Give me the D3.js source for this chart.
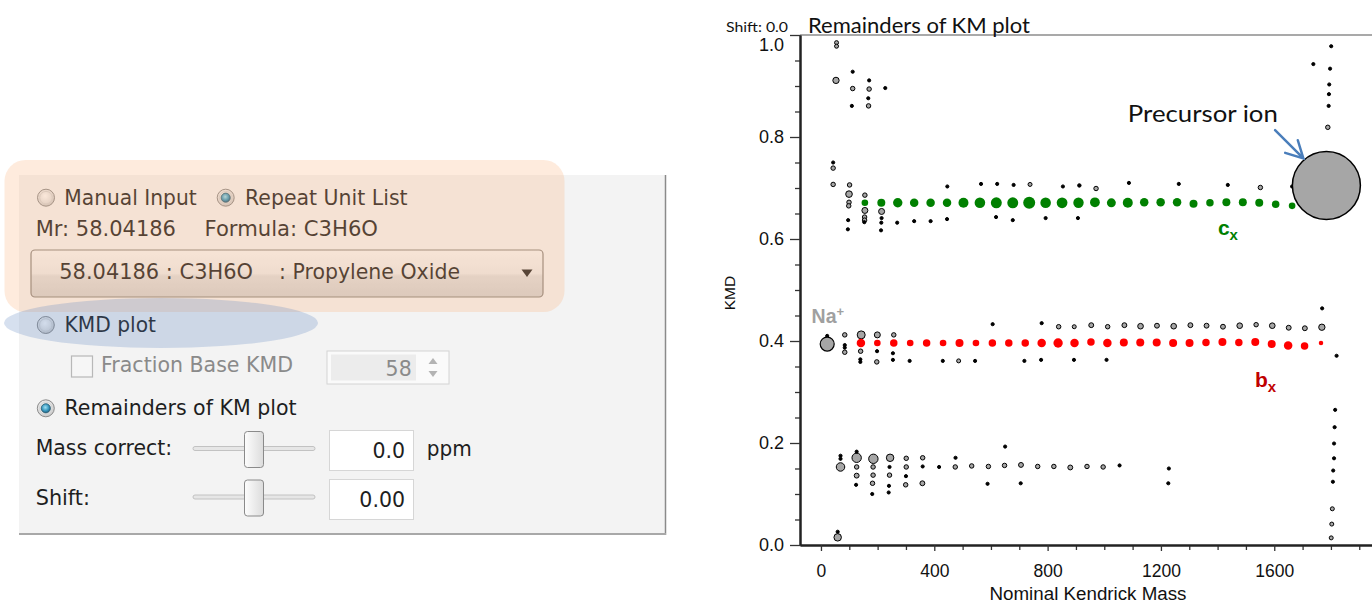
<!DOCTYPE html>
<html><head><meta charset="utf-8">
<script src="https://cdn.jsdelivr.net/npm/d3@7"></script>
<style>html,body{margin:0;padding:0;background:#fff;overflow:hidden}</style>
</head><body>
<svg id="c" width="1372" height="603"></svg>
<script>
// ---------------- DATA ----------------
// c-series (green) : nominal Kendrick mass, KMD remainder, abundance
const cxMass = [155,213,271,329,387,445,503,561,619,677,735,793,851,909,967,1025,1083,1141,1199,1257,1315,1373,1431,1489,1547,1605,1663];
const cxKmd  = [0.671,0.671,0.671,0.671,0.671,0.671,0.671,0.671,0.671,0.671,0.671,0.671,0.671,0.671,0.672,0.671,0.671,0.672,0.672,0.672,0.669,0.671,0.672,0.672,0.671,0.668,0.665];
const cxAbund= [11,16,22,18,18,18,25,28,30,30,36,28,29,27,24,20,25,18,18,18,16,14,16,16,16,14,11];
// b-series (red)
const bxMass = [141,199,257,315,373,431,489,547,605,663,721,779,837,895,953,1011,1069,1127,1185,1243,1301,1359,1417,1475,1533,1591,1649,1707,1765];
const bxKmd  = [0.396,0.396,0.396,0.396,0.396,0.396,0.396,0.396,0.396,0.396,0.396,0.396,0.396,0.396,0.398,0.396,0.397,0.397,0.397,0.396,0.396,0.397,0.398,0.397,0.398,0.394,0.391,0.390,0.396];
const bxAbund= [18,11,14,11,14,11,16,11,14,14,14,18,22,18,14,18,16,16,16,16,16,14,16,14,16,16,18,14,5];
// Na+ adduct and precursor ion
const naMass = [22], naKmd = [0.394], naAbund = [49];
const precursorMass = [1784], precursorKmd = [0.705], precursorAbund = [1156];
// other ions [mass, KMD, abundance]
const otherUpper = [[55,0.985,4],[55,0.978,4],[53,0.911,10],[112,0.928,2.5],[112,0.895,5],[109,0.861,2.5],[170,0.911,2.5],[170,0.894,5],[167,0.876,2.5],[168,0.861,5],[227,0.896,2.5],
 [43,0.750,2.5],[43,0.739,5],[43,0.707,5],[101,0.706,5],[99,0.688,11],[99,0.672,5],[98,0.665,5],[96,0.637,2.5],[95,0.619,2.5],
 [155,0.686,5],[155,0.656,9],[154,0.643,5],[154,0.637,5],[153,0.633,2.5],[214,0.654,9],[214,0.641,2.5],[213,0.632,2.5],[212,0.617,2.5],
 [269,0.632,2.5],[329,0.635,2.5],[387,0.635,2.5],[446,0.703,2.5],[445,0.639,2.5],[565,0.708,2.5],[622,0.708,2.5],[618,0.643,2.5],[680,0.706,2.5],[677,0.637,2.5],[738,0.707,4],[793,0.641,2.5],[854,0.703,2.5],[912,0.705,3],[907,0.641,2.5],[971,0.699,5],[1087,0.710,2.5],[1263,0.708,2.5],[1436,0.706,2.5],[1551,0.701,5],[1663,0.703,2.5],
 [1801,0.978,2.5],[1738,0.943,2.5],[1797,0.934,2.5],[1794,0.903,2.5],[1793,0.884,2.5],[1792,0.861,2.5],[1789,0.819,5]];
const otherMid = [[22,0.410,2.5],[84,0.412,5],[84,0.392,2.5],[84,0.387,2.5],[84,0.378,5],[142,0.412,16],[140,0.380,5],[139,0.364,2.5],[139,0.359,2.5],[199,0.412,9],[198,0.380,2.5],[197,0.359,5],[257,0.412,5],[254,0.376,2.5],[254,0.363,2.5],[313,0.361,2.5],[430,0.361,2.5],[486,0.361,4],[544,0.361,2.5],[606,0.433,2.5],[718,0.361,2.5],[779,0.435,2.5],[777,0.363,2.5],[839,0.428,5],[894,0.428,4],[893,0.363,2.5],[954,0.431,6],[1012,0.428,5],[1071,0.431,6],[1128,0.429,8],[1186,0.430,6],[1245,0.429,8],[1304,0.431,6],[1361,0.430,6],[1419,0.428,6],[1478,0.430,8],[1536,0.432,5],[1593,0.430,8],[1651,0.426,6],[1708,0.425,6],[1768,0.427,10],[1008,0.363,2.5],[1769,0.464,2.5],[1820,0.371,2.5]];
const otherLow = [[69,0.153,18],[69,0.175,2.5],[69,0.169,2.5],[59,0.015,14],[59,0.026,2.5],[126,0.171,22],[126,0.183,2.5],[126,0.153,5],[126,0.136,6],[124,0.118,2.5],[185,0.169,22],[184,0.153,5],[184,0.137,5],[182,0.121,5],[181,0.100,2.5],[244,0.171,14],[242,0.153,2.5],[242,0.137,5],[240,0.116,2.5],[239,0.103,2.5],[301,0.170,5],[301,0.153,5],[300,0.135,2.5],[299,0.118,5],[359,0.171,5],[359,0.154,2.5],[358,0.121,6],[417,0.153,2.5],[475,0.171,2.5],[474,0.153,5],[532,0.155,5],[591,0.154,5],[588,0.120,2.5],[650,0.193,2.5],[648,0.156,5],[706,0.157,6],[705,0.121,2.5],[765,0.154,5],[822,0.154,5],[880,0.152,6],[939,0.154,5],[996,0.153,5],[1054,0.156,2.5],[1228,0.150,2.5],[1226,0.121,2.5],
 [1815,0.265,2.5],[1813,0.231,2.5],[1811,0.199,2.5],[1811,0.170,2.5],[1808,0.146,2.5],[1807,0.124,2.5],[1805,0.071,4],[1803,0.041,4],[1801,0.014,4]];
// ticks
const yMajorTicks = [0, 0.2, 0.4, 0.6, 0.8, 1.0];
const yMinorTicks = [0.05,0.1,0.15,0.25,0.3,0.35,0.45,0.5,0.55,0.65,0.7,0.75,0.85,0.9,0.95];
const xMajorTicks = [0, 400, 800, 1200, 1600];
const xMinorTicks = [100,200,300,500,600,700,900,1000,1100,1300,1400,1500,1700,1800,1900];

// ---------------- CHART ----------------
const svg = d3.select("#c");
svg.append("rect").attr("width",1372).attr("height",603).attr("fill","#fff");
const defs = svg.append("defs");

const x = d3.scaleLinear().domain([-74, 1945]).range([800, 1372]);
const y = d3.scaleLinear().domain([0, 1]).range([545, 35]);
const r = d3.scaleSqrt().domain([0, 1156]).range([0, 34]);

const chart = svg.append("g");
// top border
chart.append("line").attr("x1",x.range()[0]).attr("x2",x.range()[1]).attr("y1",y(1)).attr("y2",y(1))
  .attr("stroke","#8c8c8c").attr("stroke-width",1.5);

// y axis
const yAxMinor = chart.append("g").attr("transform",`translate(${x.range()[0]},0)`)
  .call(d3.axisLeft(y).tickValues(yMinorTicks).tickSize(5).tickSizeOuter(0).tickFormat(""));
const yAx = chart.append("g").attr("transform",`translate(${x.range()[0]},0)`)
  .call(d3.axisLeft(y).tickValues(yMajorTicks).tickSize(10).tickPadding(6).tickSizeOuter(0).tickFormat(d3.format(".1f")));
// x axis
const xAxMinor = chart.append("g").attr("transform",`translate(0,${y(0)})`)
  .call(d3.axisBottom(x).tickValues(xMinorTicks).tickSize(5).tickSizeOuter(0).tickFormat(""));
const xAx = chart.append("g").attr("transform",`translate(0,${y(0)})`)
  .call(d3.axisBottom(x).tickValues(xMajorTicks).tickSize(6).tickPadding(14).tickSizeOuter(0).tickFormat(d3.format("d")));
[yAx,yAxMinor,xAx,xAxMinor].forEach(g=>{
  g.selectAll(".domain").attr("stroke","#222").attr("stroke-width",2);
  g.selectAll(".tick line").attr("stroke","#333").attr("stroke-width",1.3);
});
yAx.selectAll("text").attr("font-family","Liberation Sans, Arial, sans-serif").attr("font-size",18).attr("fill","#111")
  .attr("dy", d => d === 1 ? "0.85em" : "0.32em");
xAx.selectAll("text").attr("font-family","Liberation Sans, Arial, sans-serif").attr("font-size",17.5).attr("fill","#111");

// axis titles
chart.append("text").attr("x",1088).attr("y",600).attr("text-anchor","middle")
  .attr("font-family","Liberation Sans, Arial, sans-serif").attr("font-size",17.5).attr("fill","#111")
  .attr("textLength",197).attr("lengthAdjust","spacingAndGlyphs")
  .text("Nominal Kendrick Mass");
chart.append("text").attr("transform","translate(735,293) rotate(-90)").attr("text-anchor","middle")
  .attr("font-family","Liberation Sans, Arial, sans-serif").attr("font-size",15.5).attr("fill","#111")
  .text("KMD");
// title
chart.append("text").attr("x",808).attr("y",33).attr("font-family","Lato, sans-serif").attr("font-size",21)
  .attr("textLength",222).attr("lengthAdjust","spacingAndGlyphs").attr("fill","#111").text("Remainders of KM plot");
chart.append("text").attr("x",726).attr("y",31.5).attr("font-family","Lato, sans-serif").attr("font-size",14)
  .attr("textLength",62).attr("lengthAdjust","spacingAndGlyphs").attr("fill","#111").text("Shift: 0.0");

// points
const others = otherUpper.concat(otherMid, otherLow);
const pts = chart.append("g");
pts.selectAll("circle.other").data(others).join("circle").attr("class","other")
  .attr("cx",d=>x(d[0])).attr("cy",d=>y(d[1])).attr("r",d=>r(d[2]))
  .attr("fill",d => d[2] <= 3 ? "#000" : "#a6a6a6").attr("stroke","#000").attr("stroke-width",1);
pts.selectAll("circle.na").data(naMass).join("circle").attr("class","na")
  .attr("cx",d=>x(d)).attr("cy",(d,i)=>y(naKmd[i])).attr("r",(d,i)=>r(naAbund[i]))
  .attr("fill","#a6a6a6").attr("stroke","#000").attr("stroke-width",1.2);
pts.selectAll("circle.bx").data(bxMass).join("circle").attr("class","bx")
  .attr("cx",d=>x(d)).attr("cy",(d,i)=>y(bxKmd[i])).attr("r",(d,i)=>r(bxAbund[i])).attr("fill","#ff0000");
pts.selectAll("circle.cx").data(cxMass).join("circle").attr("class","cx")
  .attr("cx",d=>x(d)).attr("cy",(d,i)=>y(cxKmd[i])).attr("r",(d,i)=>r(cxAbund[i])).attr("fill","#008000");
pts.selectAll("circle.prec").data(precursorMass).join("circle").attr("class","prec")
  .attr("cx",d=>x(d)).attr("cy",(d,i)=>y(precursorKmd[i])).attr("r",(d,i)=>r(precursorAbund[i]))
  .attr("fill","#a6a6a6").attr("stroke","#000").attr("stroke-width",1.5);

// annotations
const pcx = x(precursorMass[0]), pcy = y(precursorKmd[0]), pr = r(precursorAbund[0]);
const ang = Math.atan2(-27, -23);
const tip = [pcx + (pr+1.5)*Math.cos(ang), pcy + (pr+1.5)*Math.sin(ang)];
const tail = [tip[0]-28.3, tip[1]-28.3];
const dirA = Math.atan2(tip[1]-tail[1], tip[0]-tail[0]);
const hl = 19, ha = 28*Math.PI/180;
const arm1 = [tip[0]+hl*Math.cos(dirA+Math.PI-ha), tip[1]+hl*Math.sin(dirA+Math.PI-ha)];
const arm2 = [tip[0]+hl*Math.cos(dirA+Math.PI+ha), tip[1]+hl*Math.sin(dirA+Math.PI+ha)];
chart.append("path").attr("d",`M${tail}L${tip}M${arm1}L${tip}L${arm2}`)
  .attr("fill","none").attr("stroke","#4a7ebb").attr("stroke-width",2.5).attr("stroke-linecap","round");
chart.append("text").attr("x",x(1348)).attr("y",y(0.830)).attr("text-anchor","middle")
  .attr("font-family","Lato, sans-serif").attr("font-size",24).attr("textLength",150).attr("lengthAdjust","spacingAndGlyphs")
  .attr("fill","#111").text("Precursor ion");

const naT = chart.append("text").attr("x",x(-33)).attr("y",y(0.435)).attr("font-family","Liberation Sans, Arial, sans-serif")
  .attr("font-weight","bold").attr("fill","#a0a0a0").attr("font-size",19.5);
naT.append("tspan").text("Na");
naT.append("tspan").attr("font-size",13).attr("dy",-7).text("+");

const cT = chart.append("text").attr("x",x(1401)).attr("y",y(0.608)).attr("font-family","Liberation Sans, Arial, sans-serif")
  .attr("font-weight","bold").attr("fill","#008000").attr("font-size",21);
cT.append("tspan").text("c");
cT.append("tspan").attr("font-size",15).attr("dy",5).text("x");

const bT = chart.append("text").attr("x",x(1532)).attr("y",y(0.310)).attr("font-family","Liberation Sans, Arial, sans-serif")
  .attr("font-weight","bold").attr("fill","#c00000").attr("font-size",21);
bT.append("tspan").text("b");
bT.append("tspan").attr("font-size",15).attr("dy",5).text("x");

// ---------------- SETTINGS PANEL (UI) ----------------
const lg = (id, stops, x2, y2) => {
  const g = defs.append("linearGradient").attr("id",id).attr("x1",0).attr("y1",0).attr("x2",x2||0).attr("y2",y2===undefined?1:y2);
  stops.forEach(s=>g.append("stop").attr("offset",s[0]).attr("stop-color",s[1]));
};
const rg = (id, stops) => {
  const g = defs.append("radialGradient").attr("id",id).attr("cx","45%").attr("cy","40%").attr("r","60%");
  stops.forEach(s=>g.append("stop").attr("offset",s[0]).attr("stop-color",s[1]));
};
lg("ddGrad",[[0,"#f6f6f6"],[0.5,"#ebebeb"],[0.55,"#dedede"],[1,"#d2d2d2"]]);
lg("thumbGrad",[[0,"#fdfdfd"],[1,"#dcdcdc"]],1,0);
rg("radioGrad",[[0,"#fbfbfb"],[0.7,"#e0e0e0"],[1,"#c4c4c4"]]);
rg("radioSel",[[0,"#9fe0f2"],[0.6,"#3b9ac0"],[1,"#1d5f80"]]);

const ui = svg.append("g");
ui.append("rect").attr("x",19).attr("y",175).attr("width",646).attr("height",358).attr("fill","#f3f3f3");
ui.append("line").attr("x1",665.5).attr("x2",665.5).attr("y1",175).attr("y2",535).attr("stroke","#8a8a8a").attr("stroke-width",1.5);
ui.append("line").attr("x1",19).attr("x2",666).attr("y1",534).attr("y2",534).attr("stroke","#a8a8a8").attr("stroke-width",2);

const uiFont = "DejaVu Sans, Verdana, sans-serif";
function label(xp, yp, s, w, opt) {
  opt = opt || {};
  const t = ui.append("text").attr("x",xp).attr("y",yp).attr("font-family",uiFont).attr("font-size",opt.size||20.5)
    .attr("fill",opt.fill||"#1e1e1e").attr("text-anchor",opt.anchor||"start").text(s);
  if (w) t.attr("textLength",w).attr("lengthAdjust","spacingAndGlyphs");
  return t;
}
function radio(cx, cy, sel) {
  ui.append("circle").attr("cx",cx).attr("cy",cy).attr("r",8.5).attr("fill","url(#radioGrad)").attr("stroke","#8c8c8c").attr("stroke-width",1);
  ui.append("circle").attr("cx",cx).attr("cy",cy).attr("r",6.3).attr("fill","none").attr("stroke","#d2d2d2").attr("stroke-width",1);
  if (sel) ui.append("circle").attr("cx",cx).attr("cy",cy).attr("r",4.6).attr("fill","url(#radioSel)").attr("stroke","#2a5a6e").attr("stroke-width",0.8);
}
function slider(cy, thumbX) {
  ui.append("rect").attr("x",193).attr("y",cy-2).attr("width",122).attr("height",4).attr("rx",2)
    .attr("fill","#e6e6e6").attr("stroke","#c2c2c2").attr("stroke-width",1);
  ui.append("rect").attr("x",thumbX).attr("y",cy-17).attr("width",19).attr("height",36).attr("rx",3)
    .attr("fill","url(#thumbGrad)").attr("stroke","#8a8a8a").attr("stroke-width",1);
}
function textbox(x0, y0, w, h, val) {
  ui.append("rect").attr("x",x0).attr("y",y0).attr("width",w).attr("height",h).attr("fill","#fff").attr("stroke","#d6d6d6").attr("stroke-width",1);
  label(x0+w-8.5, y0+h/2+7.5, val, null, {anchor:"end"});
}

radio(46, 197.7, false);
label(64.3, 204.5, "Manual Input", 132.4);
radio(225.7, 197.7, true);
label(245, 204.5, "Repeat Unit List", 162.6);
label(35.7, 236, "Mr: 58.04186", 140.3);
label(204.5, 236, "Formula: C3H6O", 173.5);
// dropdown
ui.append("rect").attr("x",31).attr("y",250).attr("width",512).attr("height",47).attr("rx",4)
  .attr("fill","url(#ddGrad)").attr("stroke","#8a8580").attr("stroke-width",1.2);
label(59.3, 279, "58.04186 : C3H6O", 193.7);
label(279, 279, ": Propylene Oxide", 181);
ui.append("path").attr("d","M521.5,269.5L532.5,269.5L527,277Z").attr("fill","#222");

radio(45.8, 325, false);
label(64.5, 331.7, "KMD plot", 91.5);
// checkbox
ui.append("rect").attr("x",71.5).attr("y",356).attr("width",21).attr("height",21).attr("fill","#f6f6f6").attr("stroke","#b8b8b8").attr("stroke-width",1.2);
label(101, 371.7, "Fraction Base KMD", 192, {fill:"#8a8a8a"});
// spin box
ui.append("rect").attr("x",327).attr("y",351).attr("width",122).attr("height",33).attr("fill","#fafafa").attr("stroke","#d4d4d4").attr("stroke-width",1);
ui.append("rect").attr("x",331).attr("y",354.5).attr("width",85).attr("height",26).attr("fill","#ececec");
label(411.7, 375.7, "58", null, {anchor:"end", fill:"#8a8a8a"});
ui.append("path").attr("d","M428.5,364L437.5,364L433,358Z").attr("fill","#b3b3b3");
ui.append("path").attr("d","M428.5,371L437.5,371L433,377Z").attr("fill","#b3b3b3");

radio(45.8, 408.3, true);
label(64.5, 415, "Remainders of KM plot", 232);
label(35.7, 455, "Mass correct:", 136.5);
slider(448.5, 244.5);
textbox(329.5, 430.5, 84, 40, "0.0");
label(426.7, 456, "ppm", 45);
label(35.7, 505, "Shift:", 54.3);
slider(497, 244.5);
textbox(329.5, 479.5, 84, 40, "0.00");

// highlight overlays
ui.append("rect").attr("x",4.5).attr("y",160).attr("width",560).attr("height",152).attr("rx",21)
  .attr("fill","rgba(250,175,120,0.25)");
ui.append("ellipse").attr("cx",161).attr("cy",323).attr("rx",157).attr("ry",25)
  .attr("fill","rgba(90,130,190,0.25)");
</script></body></html>
